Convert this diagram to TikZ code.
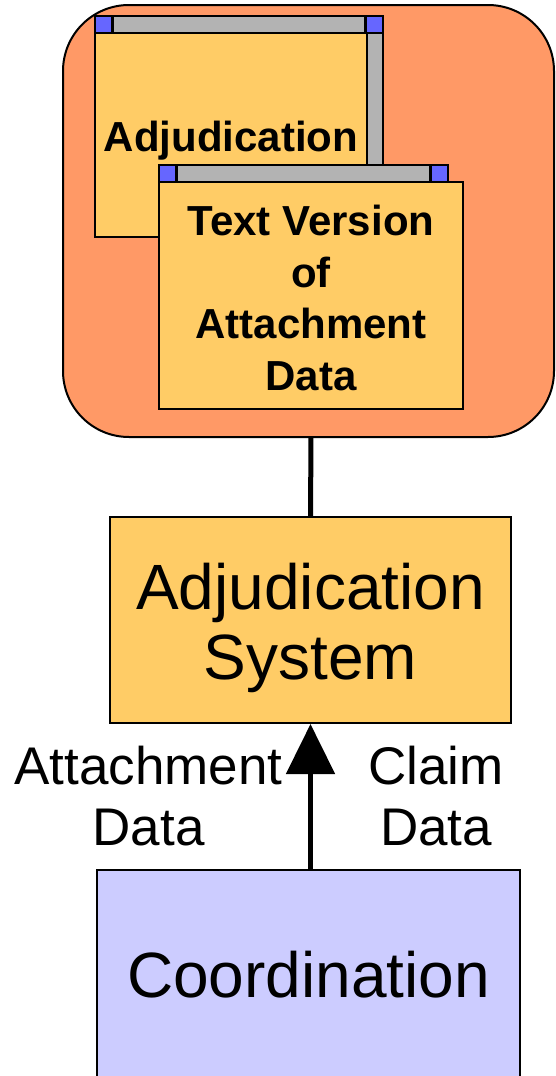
\documentclass[tikz,border=0pt]{standalone}
\usepackage{fontspec}
\setmainfont{Liberation Sans}
\usetikzlibrary{arrows.meta}
\definecolor{salmon}{HTML}{FF9966}
\definecolor{gold}{HTML}{FFCC66}
\definecolor{lilac}{HTML}{CCCCFF}
\definecolor{bar}{HTML}{B3B3B3}
\definecolor{knob}{HTML}{6666FF}
\tikzset{
  box/.style={draw,line width=2pt,align=center,inner sep=0pt},
  win/.style={draw,line width=2.2pt},
  big/.style={font=\fontsize{64}{72}\selectfont},
  lab/.style={font=\fontsize{53}{61}\selectfont,align=center},
  bold/.style={font=\fontsize{42}{51.5}\selectfont\bfseries,align=center}
}
\begin{document}
\begin{tikzpicture}[x=1pt,y=-1pt]
\useasboundingbox (0,0) rectangle (555,1076);
\pgfmathsetmacro{\k}{17.5}
% package
\draw[fill=salmon,line width=2pt,rounded corners=66pt](63,5) rectangle (554,437);
% first window
\draw[win,fill=bar](95,16) rectangle (383,33);
\draw[win,fill=bar](367,33) rectangle (383,170);
\draw[win,fill=gold](95,33) rectangle (367,237);
\foreach \x in {95,383-\k}{\draw[win,fill=knob](\x,16) rectangle ++(\k,17);}
\node[bold] (adj) at (231,141) {Adjudication};
% second window
\draw[win,fill=bar](159,165) rectangle (448,182);
\draw[win,fill=gold](159,182) rectangle (463,409);
\foreach \x in {159,448-\k}{\draw[win,fill=knob](\x,165) rectangle ++(\k,17);}
\node[bold] (txt) at (311,298) {Text Version\\of\\Attachment\\Data};
\coordinate (pkg) at (311,437);
% components
\node[box,fill=gold,minimum width=401pt,minimum height=206pt] (sys) at (310.5,620) {};
\node[big,align=center] (sysname) at (310.5,628) {Adjudication\\[-2pt]System};
\node[box,fill=lilac,big,minimum width=423pt,minimum height=210pt] (coord) at (308.5,975) {Coordination};
\coordinate (feed) at (sys.south |- coord.north);
\draw[line width=5pt](pkg)--(sys.north);
\draw[line width=5pt,-{Triangle[length=50pt,width=48pt]}](feed)--(sys.south)
  node[lab,pos=0.5,left=22pt]{Attachment\\Data}
  node[lab,pos=0.5,right=52pt]{Claim\\Data};
\end{tikzpicture}
\end{document}
